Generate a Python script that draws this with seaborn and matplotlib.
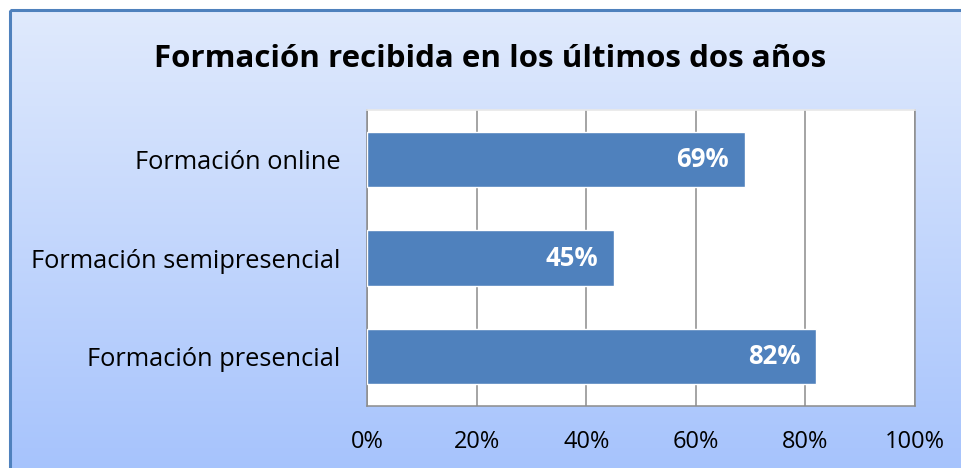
import numpy as np
import pandas as pd
import matplotlib
matplotlib.use("Agg")
import matplotlib.pyplot as plt
from matplotlib.patches import Rectangle
from matplotlib.colors import LinearSegmentedColormap
import seaborn as sns

categories = ["Formación online", "Formación semipresencial", "Formación presencial"]
values = [69, 45, 82]
xticks = [0, 20, 40, 60, 80, 100]
xticklabels = ["0%", "20%", "40%", "60%", "80%", "100%"]
title = "Formación recibida en los últimos dos años"

sns.set_theme(style="white")
plt.rcParams["font.family"] = ["Open Sans", "DejaVu Sans"]

W, H = 961, 468
fig = plt.figure(figsize=(W / 100, H / 100), dpi=100)
fig.patch.set_facecolor("white")

# background gradient frame
bg = fig.add_axes([0, 0, 1, 1], zorder=0)
bg.set_xlim(0, W)
bg.set_ylim(H, 0)
bg.axis("off")
cmap = LinearSegmentedColormap.from_list("g", ["#E0EAFD", "#A6C3FC"])
grad = np.linspace(0, 1, 256).reshape(-1, 1)
bg.imshow(grad, cmap=cmap, extent=[10, W + 5, H + 5, 10], aspect="auto", zorder=0)
bg.add_patch(Rectangle((10, 10), W, H, fill=False, edgecolor="#4F81BD", linewidth=2.2, zorder=2))
bg.text(490, 59, title, ha="center", va="center", fontsize=22.5, fontweight="bold", color="black")

df = pd.DataFrame({"cat": categories, "val": values})
ax = fig.add_axes([367 / W, 1 - 406 / H, (915 - 367) / W, (406 - 110) / H], zorder=1)
ax.set_facecolor("white")
sns.barplot(data=df, y="cat", x="val", orient="h", color="#4F81BD", width=0.56,
            saturation=1, ax=ax, zorder=3)
ax.set_xlim(0, 100)
ax.set_ylim(2.5, -0.5)
ax.set_xticks(xticks)
ax.set_xticklabels(xticklabels)
ax.xaxis.grid(True, color="#8C8C8C", linewidth=1.1)
ax.set_axisbelow(True)
ax.set_xlabel("")
ax.set_ylabel("")
ax.tick_params(axis="y", length=0, labelsize=18.3, colors="black", pad=19)
ax.tick_params(axis="x", length=0, labelsize=17, colors="black", pad=17)
for s in ["left", "right", "bottom"]:
    ax.spines[s].set_color("#8C8C8C")
    ax.spines[s].set_linewidth(1.1)
    ax.spines[s].set_visible(True)
ax.spines["top"].set_color("#E8E8E8")
ax.spines["top"].set_visible(True)

for i, v in enumerate(values):
    ax.text(v - 2.9, i, f"{v}%", ha="right", va="center", color="white",
            fontsize=18.5, fontweight="bold", zorder=5)

fig.savefig("out.png", dpi=100)
